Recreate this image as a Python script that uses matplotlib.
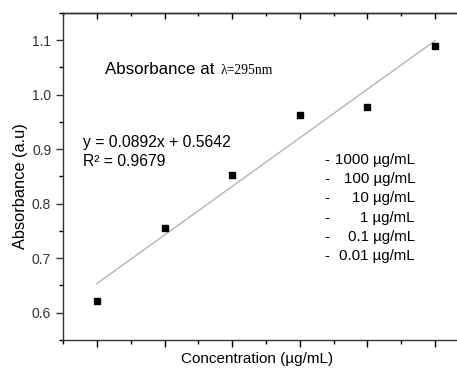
import numpy as np
import matplotlib
matplotlib.use("Agg")
import matplotlib.pyplot as plt
from matplotlib.ticker import MultipleLocator

plt.rcParams["font.family"] = ["Liberation Sans", "DejaVu Sans"]

# data
conc_pos = [1, 2, 3, 4, 5, 6]
absorbance = [0.621, 0.755, 0.853, 0.963, 0.977, 1.090]
slope = 0.0892
intercept = 0.5642
r2 = 0.9679
conc_labels = ["1000 µg/mL", "100 µg/mL", "10 µg/mL", "1 µg/mL", "0.1 µg/mL", "0.01 µg/mL"]
y_ticks = [0.6, 0.7, 0.8, 0.9, 1.0, 1.1]

W, H = 457, 369
fig = plt.figure(figsize=(W / 100, H / 100), dpi=100)
ax = fig.add_axes([63 / W, 1 - 340 / H, (469 - 63) / W, (340 - 13) / H])

xfit = np.array([conc_pos[0], conc_pos[-1]])
ax.plot(xfit, slope * xfit + intercept, color="#b4b4b4", linewidth=1.0)
ax.plot(conc_pos, absorbance, "s", color="black", markersize=5)

ax.set_xlim(0.5, 6.5)
ax.set_ylim(0.55, 1.15)
ax.set_xticks(conc_pos)
ax.set_xticklabels([])
ax.xaxis.set_minor_locator(MultipleLocator(0.5))
ax.set_yticks(y_ticks)
ax.set_yticklabels([f"{v:.1f}" for v in y_ticks])
ax.yaxis.set_minor_locator(MultipleLocator(0.05))

for s in ax.spines.values():
    s.set_linewidth(1.0)
    s.set_color("#333333")

ax.tick_params(axis="x", which="major", direction="out", length=5, width=1, top=False)
ax.tick_params(axis="x", which="minor", direction="out", length=3, width=1, top=False)
ax.tick_params(axis="y", which="major", direction="out", length=5, width=1, labelsize=10, colors="#333333")
ax.tick_params(axis="y", which="minor", direction="out", length=3, width=1)

# top axis ticks point inward
sec = ax.secondary_xaxis("top")
sec.set_xticks(conc_pos)
sec.set_xticklabels([])
sec.xaxis.set_minor_locator(MultipleLocator(0.5))
sec.tick_params(which="major", direction="in", length=4, width=1)
sec.tick_params(which="minor", direction="in", length=2, width=1)
sec.spines["top"].set_linewidth(1.0)

ax.set_ylabel("Absorbance (a.u)", fontsize=11.8)
ax.yaxis.set_label_coords(-0.086, 0.471)
ax.set_xlabel("Concentration (µg/mL)", fontsize=11)
ax.xaxis.set_label_coords(0.479, -0.036)

def px(x, y):
    return x / W, 1 - y / H

fig.text(*px(105, 70), "Absorbance at", fontsize=12.2, va="center", ha="left")
fig.text(*px(221, 70), "λ=295nm", fontsize=9.8, va="center", ha="left",
         family=["Liberation Serif", "DejaVu Serif"])

fig.text(*px(83, 142), f"y = {slope}x + {intercept}", fontsize=11.3, va="center")
fig.text(*px(83, 162), f"R² = {r2}", fontsize=11.3, va="center")

for i, lab in enumerate(conc_labels):
    y = 160 + i * 19.2
    fig.text(*px(324, y), "-", fontsize=10.8, va="center", ha="left")
    fig.text(*px(415, y), lab, fontsize=10.8, va="center", ha="right")

fig.savefig("out.png", dpi=100)
